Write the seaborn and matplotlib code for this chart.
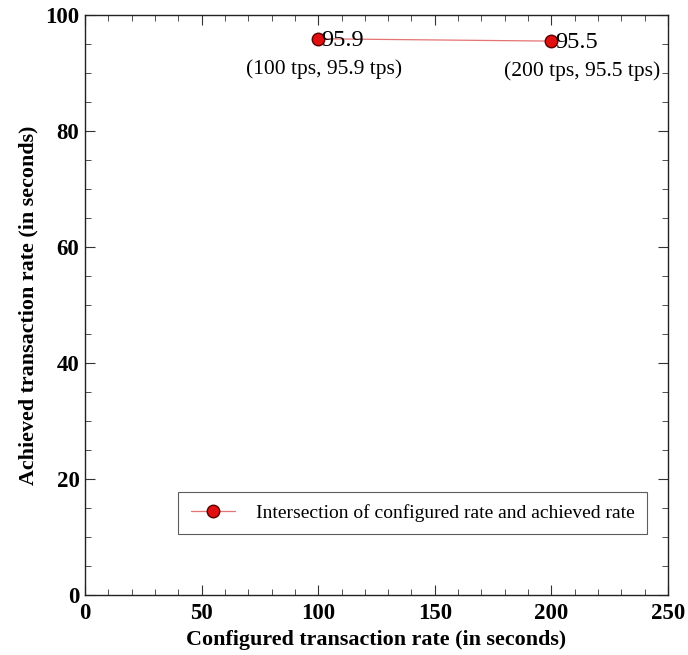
import pandas as pd
import matplotlib
matplotlib.use('Agg')
import matplotlib.pyplot as plt
from matplotlib.ticker import MultipleLocator
import seaborn as sns

# Data
configured_rate = [100, 200]
achieved_rate = [95.9, 95.5]
point_labels = ['95.9', '95.5']
coord_labels = ['(100 tps, 95.9 tps)', '(200 tps, 95.5 tps)']
series_name = 'Intersection of configured rate and achieved rate'

df = pd.DataFrame({'configured': configured_rate, 'achieved': achieved_rate})

sns.set_theme(style='ticks')
plt.rcParams['font.family'] = ['Liberation Serif', 'DejaVu Serif']
plt.rcParams['text.color'] = 'black'
plt.rcParams['axes.labelcolor'] = 'black'
plt.rcParams['xtick.color'] = 'black'
plt.rcParams['ytick.color'] = 'black'

fig = plt.figure(figsize=(6.88, 6.55), dpi=100)
ax = fig.add_axes([0.1235, 0.0916, 0.8475, 0.8855])

sns.lineplot(data=df, x='configured', y='achieved', ax=ax,
             color='#e57373', linewidth=0.9, marker='o', markersize=9,
             markerfacecolor='#e01010', markeredgecolor='#5a0000',
             markeredgewidth=1.0, label=series_name)

# value labels and coordinate notes (offsets in points)
offsets = [(4.5, -21.5), (22, -21.5)]
for x, y, lab, note, off in zip(configured_rate, achieved_rate, point_labels,
                                coord_labels, offsets):
    ax.annotate(lab, (x, y), xytext=(2.5, -1), textcoords='offset points',
                ha='left', va='center', fontsize=17.5)
    ax.annotate(note, (x, y), xytext=off,
                textcoords='offset points', ha='center', va='center',
                fontsize=15.5)

ax.set_xlim(0, 250)
ax.set_ylim(0, 100)
ax.xaxis.set_major_locator(MultipleLocator(50))
ax.xaxis.set_minor_locator(MultipleLocator(10))
ax.yaxis.set_major_locator(MultipleLocator(20))
ax.yaxis.set_minor_locator(MultipleLocator(5))
ax.tick_params(which='both', direction='in', top=True, right=True,
               color='#333333')
ax.tick_params(which='major', length=7, width=0.8, labelsize=16.5)
ax.tick_params(axis='x', which='major', pad=6)
ax.tick_params(axis='y', which='major', pad=4)
ax.tick_params(which='minor', length=4, width=0.6)
for lbl in ax.get_xticklabels() + ax.get_yticklabels():
    lbl.set_fontweight('bold')
for sp in ax.spines.values():
    sp.set_linewidth(1.0)
    sp.set_color('#222222')

ax.set_xlabel('Configured transaction rate (in seconds)', fontsize=15.8,
              fontweight='bold', labelpad=4)
ax.set_ylabel('Achieved transaction rate (in seconds)', fontsize=15.8,
              fontweight='bold', labelpad=5)

leg = ax.legend(loc='lower right', bbox_to_anchor=(0.981, 0.0884),
                fontsize=14, frameon=True, fancybox=False, borderpad=0.62,
                handlelength=2.27, handletextpad=1.12)
leg.get_frame().set_edgecolor('#333333')
leg.get_frame().set_linewidth(0.8)

plt.savefig('out.png', dpi=100)
